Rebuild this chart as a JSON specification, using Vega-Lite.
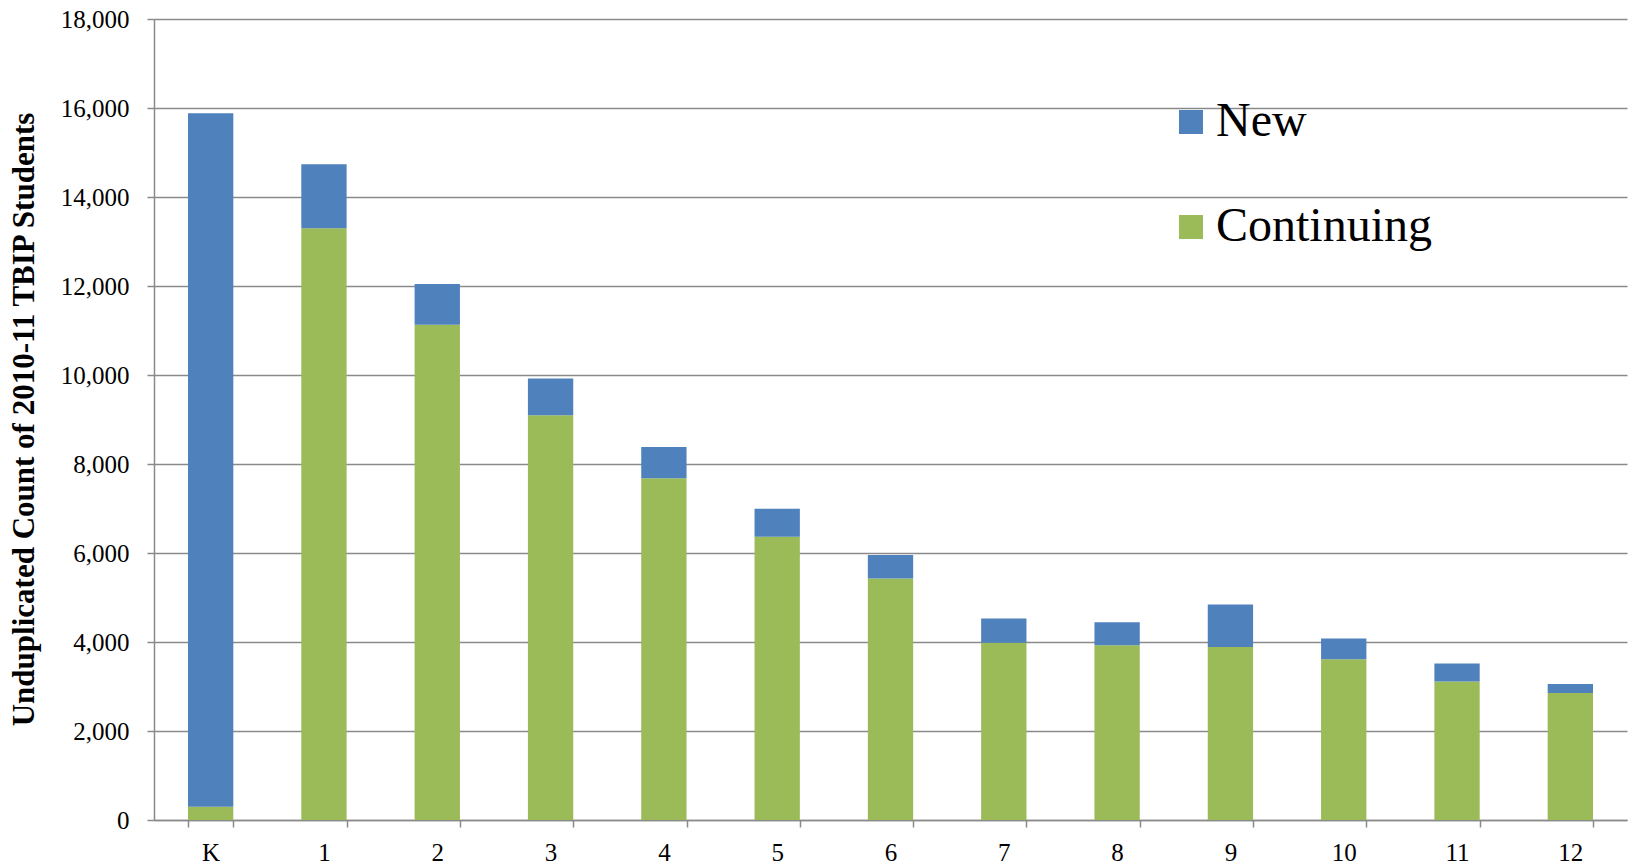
{
  "$schema": "https://vega.github.io/schema/vega-lite/v6.json",
  "width": 1473,
  "height": 801,
  "autosize": {"type": "none"},
  "padding": {"left": 154, "top": 19, "right": 4, "bottom": 48},
  "background": "white",
  "config": {"view": {"stroke": null}},
  "data": {
    "values": [
      {"grade": "K", "type": "Continuing", "count": 300},
      {"grade": "K", "type": "New", "count": 15580},
      {"grade": "1", "type": "Continuing", "count": 13300},
      {"grade": "1", "type": "New", "count": 1435},
      {"grade": "2", "type": "Continuing", "count": 11130},
      {"grade": "2", "type": "New", "count": 915},
      {"grade": "3", "type": "Continuing", "count": 9095},
      {"grade": "3", "type": "New", "count": 825},
      {"grade": "4", "type": "Continuing", "count": 7680},
      {"grade": "4", "type": "New", "count": 700},
      {"grade": "5", "type": "Continuing", "count": 6365},
      {"grade": "5", "type": "New", "count": 630},
      {"grade": "6", "type": "Continuing", "count": 5425},
      {"grade": "6", "type": "New", "count": 530},
      {"grade": "7", "type": "Continuing", "count": 3985},
      {"grade": "7", "type": "New", "count": 545},
      {"grade": "8", "type": "Continuing", "count": 3925},
      {"grade": "8", "type": "New", "count": 520},
      {"grade": "9", "type": "Continuing", "count": 3890},
      {"grade": "9", "type": "New", "count": 955},
      {"grade": "10", "type": "Continuing", "count": 3610},
      {"grade": "10", "type": "New", "count": 470},
      {"grade": "11", "type": "Continuing", "count": 3110},
      {"grade": "11", "type": "New", "count": 405},
      {"grade": "12", "type": "Continuing", "count": 2855},
      {"grade": "12", "type": "New", "count": 200}
    ]
  },
  "mark": {"type": "bar"},
  "encoding": {
    "x": {
      "field": "grade",
      "type": "nominal",
      "sort": ["K", "1", "2", "3", "4", "5", "6", "7", "8", "9", "10", "11", "12"],
      "scale": {"paddingInner": 0.6, "paddingOuter": 0.3},
      "axis": {
        "title": null,
        "labelAngle": 0,
        "tickBand": "extent",
        "labelFont": "Liberation Serif",
        "labelFontSize": 25,
        "labelColor": "black",
        "labelPadding": 13,
        "tickSize": 7,
        "tickColor": "#8a8a8a",
        "tickWidth": 1.5,
        "domainColor": "#8a8a8a",
        "domainWidth": 1.5,
        "grid": false
      }
    },
    "y": {
      "field": "count",
      "type": "quantitative",
      "stack": "zero",
      "scale": {"domain": [0, 18000], "nice": false},
      "axis": {
        "values": [0, 2000, 4000, 6000, 8000, 10000, 12000, 14000, 16000, 18000],
        "format": ",d",
        "labelFont": "Liberation Serif",
        "labelFontSize": 25,
        "labelColor": "black",
        "labelPadding": 18,
        "tickSize": 7,
        "tickColor": "#8a8a8a",
        "tickWidth": 1.5,
        "domainColor": "#8a8a8a",
        "domainWidth": 1.5,
        "grid": true,
        "gridColor": "#8a8a8a",
        "gridWidth": 1.5,
        "title": "Unduplicated Count of 2010-11 TBIP Students",
        "titleFont": "Liberation Serif",
        "titleFontSize": 31,
        "titleFontWeight": "bold",
        "titleColor": "black",
        "titleAngle": -90,
        "titleX": -121,
        "titleY": 400,
        "titleAlign": "center",
        "titleBaseline": "alphabetic"
      }
    },
    "color": {
      "field": "type",
      "type": "nominal",
      "scale": {"domain": ["New", "Continuing"], "range": ["#4F81BD", "#9BBB59"]},
      "legend": {
        "title": null,
        "orient": "none",
        "legendX": 1013,
        "legendY": 79,
        "padding": 0,
        "symbolType": "square",
        "symbolSize": 576,
        "symbolStrokeWidth": 0,
        "symbolOpacity": 1,
        "labelFont": "Liberation Serif",
        "labelFontSize": 48,
        "labelColor": "black",
        "labelLimit": 400,
        "labelOffset": 1,
        "rowPadding": 57
      }
    },
    "order": {"field": "type", "sort": "ascending"}
  }
}
